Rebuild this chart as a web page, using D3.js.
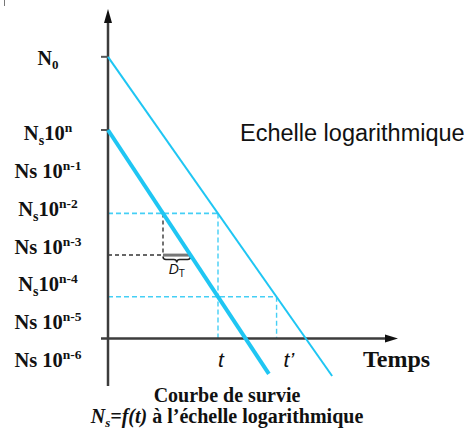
<!DOCTYPE html>
<html>
<head>
<meta charset="utf-8">
<script src="https://cdn.jsdelivr.net/npm/d3@7"></script>
<style>
  html, body { margin: 0; padding: 0; background: #fff; }
  svg { display: block; }
  .lab { font-family: "Liberation Serif", "Times New Roman", serif; font-weight: bold; fill: #111; }
  .sans { font-family: "Liberation Sans", Arial, sans-serif; fill: #111; }
</style>
</head>
<body>
<div id="chart"></div>
<script>
"use strict";
// Survival curve N = f(t) on a log scale: log level (exponent offset from n) vs time.

// y levels (exponent relative to n) and their labels
const n0Level = 1.755;
const yLevels = [0, -1, -2, -3, -4, -5, -6];
const yLabelSubS = [true, false, true, false, true, false, false]; // "N_s10" vs "Ns 10"
const yLabelExp = ['n', 'n-1', 'n-2', 'n-3', 'n-4', 'n-5', 'n-6'];

// curves: [time, level]
const curveThick = [[0, 0], [5.85, -5.85]];
const curveThin = [[0, n0Level], [8.15, -5.9]];

// reading points
const tRead = 4;      // t : thin curve at n-2, thick curve at n-4
const tpRead = 6.13;  // t' : thin curve at n-4
const dStart = 2;     // thick curve at n-2
const dEnd = 3;       // thick curve at n-3

const W = 472, H = 430;
const cyan = '#1fc6f3', cyanDash = '#45cff5', axisCol = '#3c3c3c', grey = '#666';

const svg = d3.select('#chart').append('svg').attr('width', W).attr('height', H);

const x = d3.scaleLinear().domain([0, 10]).range([108, 383]);
const y = d3.scaleLinear().domain([-5, 0]).range([338.5, 130]);
const labelY = d3.scaleLinear().domain([-6, 0]).range([367, 140]);

// tiny corner mark
svg.append('line').attr('x1', 4.5).attr('x2', 4.5).attr('y1', 0).attr('y2', 6).attr('stroke', '#777').attr('stroke-width', 1);

// ---- dashed guides ----
const g = svg.append('g');
const dash = (x1, y1, x2, y2, col, w, da) => g.append('line')
  .attr('x1', x1).attr('y1', y1).attr('x2', x2).attr('y2', y2)
  .attr('stroke', col).attr('stroke-width', w).attr('stroke-dasharray', da);

dash(x(0), y(-2), x(tRead), y(-2), cyanDash, 1.6, '5,3');
dash(x(tRead), y(-2), x(tRead), y(-5), cyanDash, 1.4, '5,3');
dash(x(0), y(-4), x(tpRead), y(-4), cyanDash, 1.6, '5,3');
dash(x(tpRead), y(-4), x(tpRead), y(-5), cyanDash, 1.4, '5,3');
dash(x(0), y(-3), x(dStart), y(-3), grey, 2, '4,3');
dash(x(dStart), y(-2), x(dStart), y(-3), '#444', 1.5, '4,3');

// D_T bar + brace
g.append('line').attr('x1', x(dStart)).attr('x2', x(dEnd)).attr('y1', y(-3)).attr('y2', y(-3))
  .attr('stroke', '#777').attr('stroke-width', 3);
{
  const x1 = x(dStart), x2 = x(dEnd), m = (x1 + x2) / 2, y0 = y(-3) + 1.5;
  g.append('path')
    .attr('d', `M${x1},${y0} Q${x1},${y0 + 3} ${x1 + 3},${y0 + 3} L${m - 3},${y0 + 3} Q${m},${y0 + 3} ${m},${y0 + 6} Q${m},${y0 + 3} ${m + 3},${y0 + 3} L${x2 - 3},${y0 + 3} Q${x2},${y0 + 3} ${x2},${y0}`)
    .attr('fill', 'none').attr('stroke', '#222').attr('stroke-width', 1.5);
  const dt = svg.append('text').attr('class', 'sans').attr('x', m).attr('y', y0 + 17)
    .attr('text-anchor', 'middle').style('font-style', 'italic').style('font-size', '14px');
  dt.append('tspan').text('D');
  dt.append('tspan').attr('dy', 3).style('font-size', '10px').style('font-style', 'normal').text('T');
}

// ---- axes ----
svg.append('line').attr('x1', x(0)).attr('x2', x(0)).attr('y1', 20).attr('y2', 386)
  .attr('stroke', axisCol).attr('stroke-width', 2.5);
svg.append('path').attr('d', `M${x(0)},9 L${x(0) + 4},23 L${x(0) - 4},23 Z`).attr('fill', '#111');
svg.append('line').attr('x1', 101).attr('x2', 388).attr('y1', y(-5)).attr('y2', y(-5))
  .attr('stroke', axisCol).attr('stroke-width', 2.5);
svg.append('path').attr('d', `M398,${y(-5)} L385,${y(-5) - 4} L385,${y(-5) + 4} Z`).attr('fill', '#111');

// ticks at N0 and Ns10^n
[n0Level, 0].forEach((lv) => svg.append('line').attr('x1', 101).attr('x2', x(0)).attr('y1', y(lv)).attr('y2', y(lv))
  .attr('stroke', '#555').attr('stroke-width', 2));

// ---- curves ----
const line = d3.line().x((d) => x(d[0])).y((d) => y(d[1]));
svg.append('path').datum(curveThin).attr('d', line).attr('fill', 'none').attr('stroke', cyan).attr('stroke-width', 2);
svg.append('path').datum(curveThick).attr('d', line).attr('fill', 'none').attr('stroke', cyan).attr('stroke-width', 4);

// ---- y labels ----
const n0 = svg.append('text').attr('class', 'lab').attr('x', 48).attr('y', y(n0Level) + 8)
  .attr('text-anchor', 'middle').style('font-size', '20px');
n0.append('tspan').text('N');
n0.append('tspan').attr('dy', 4).style('font-size', '13px').text('0');

yLevels.forEach((lv, i) => {
  const t = svg.append('text').attr('class', 'lab').attr('x', 48).attr('y', labelY(lv))
    .attr('text-anchor', 'middle').style('font-size', '20.5px');
  t.append('tspan').text('N');
  if (yLabelSubS[i]) {
    t.append('tspan').attr('dy', 5).style('font-size', '14px').text('s');
    t.append('tspan').attr('dy', -5).text('10');
  } else {
    t.append('tspan').text('s 10');
  }
  t.append('tspan').attr('dy', -8).style('font-size', '13.5px').text(yLabelExp[i]);
});

// ---- time labels ----
svg.append('text').attr('class', 'sans').attr('x', x(tRead) + 3).attr('y', 367).attr('text-anchor', 'middle')
  .style('font-style', 'italic').style('font-size', '21px').text('t');
svg.append('text').attr('class', 'sans').attr('x', x(tpRead) + 7).attr('y', 367)
  .style('font-style', 'italic').style('font-size', '21px').text('t\u2019');
svg.append('text').attr('class', 'lab').attr('x', 363).attr('y', 367).style('font-size', '24px').text('Temps');

svg.append('text').attr('class', 'sans').attr('x', 240).attr('y', 141).style('font-size', '23.5px').text('Echelle logarithmique');

// ---- caption ----
svg.append('text').attr('class', 'lab').attr('x', 227).attr('y', 402).attr('text-anchor', 'middle')
  .style('font-size', '20px').text('Courbe de survie');
const cap = svg.append('text').attr('class', 'lab').attr('x', 227).attr('y', 423).attr('text-anchor', 'middle')
  .style('font-size', '20px');
cap.append('tspan').style('font-style', 'italic').text('N');
cap.append('tspan').attr('dy', 4).style('font-style', 'italic').style('font-size', '13px').text('s');
cap.append('tspan').attr('dy', -4).style('font-style', 'italic').text('=f(t)');
cap.append('tspan').text(' à l\u2019échelle logarithmique');
</script>
</body>
</html>
